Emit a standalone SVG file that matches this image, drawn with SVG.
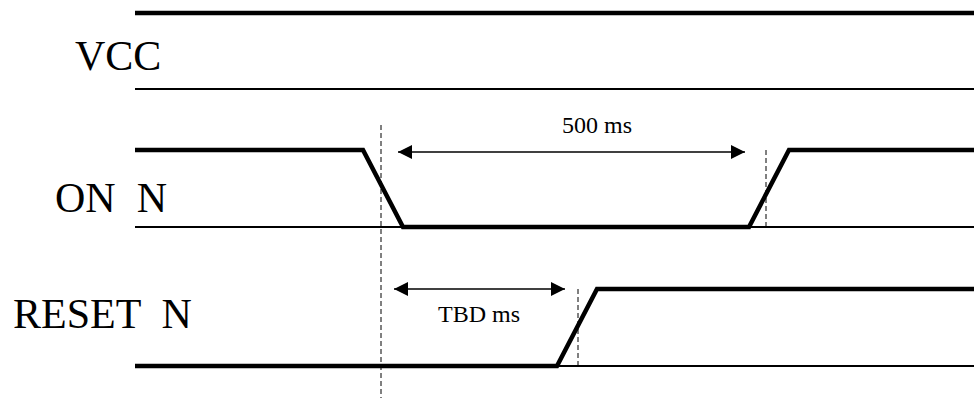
<svg xmlns="http://www.w3.org/2000/svg" width="974" height="401" viewBox="0 0 974 401">
<style>
text{font-family:"Liberation Serif","DejaVu Serif","Times New Roman",serif;fill:#000;white-space:pre}
.big{font-size:42px}
.sm{font-size:24px}
.thick{stroke:#000;stroke-width:4.5;fill:none;stroke-linejoin:miter}
.thin{stroke:#000;stroke-width:2;fill:none}
.dash{stroke:#000;stroke-width:1;stroke-dasharray:5,3;fill:none}
.dim{stroke:#000;stroke-width:1.5;fill:none}
</style>
<defs>
<marker id="ah" viewBox="0 0 10 10" refX="10" refY="5" markerWidth="16" markerHeight="14" markerUnits="userSpaceOnUse" orient="auto-start-reverse">
<path d="M0,0 L10,5 L0,10 Z" fill="#000"/>
</marker>
</defs>
<rect width="974" height="401" fill="#fff"/>
<g id="vcc">
<text class="big" x="75" y="70">VCC</text>
<line class="thick" x1="135" y1="13" x2="974" y2="13"/>
<line class="thin" x1="135" y1="89" x2="974" y2="89"/>
</g>
<g id="on_n">
<text class="big" x="55" y="212" xml:space="preserve">ON  N</text>
<line class="thin" x1="135" y1="227" x2="974" y2="227"/>
<polyline class="thick" points="135,150 363,150 403,227 749,227 789,150 974,150"/>
</g>
<g id="reset_n">
<text class="big" x="13" y="328" xml:space="preserve">RESET  N</text>
<line class="thin" x1="135" y1="366" x2="974" y2="366"/>
<polyline class="thick" points="135,366 557,366 597,289 974,289"/>
</g>
<g id="connectors">
<line class="dash" x1="381" y1="125" x2="381" y2="398"/>
<line class="dash" x1="766" y1="150" x2="766" y2="227"/>
<line class="dash" x1="578" y1="289" x2="578" y2="366"/>
<line class="dim" x1="398" y1="152" x2="745" y2="152" marker-start="url(#ah)" marker-end="url(#ah)"/>
<line class="dim" x1="394" y1="289" x2="565" y2="289" marker-start="url(#ah)" marker-end="url(#ah)"/>
</g>
<g id="labels">
<text class="sm" x="597" y="133" text-anchor="middle">500 ms</text>
<text class="sm" x="479" y="322" text-anchor="middle">TBD ms</text>
</g>
</svg>
